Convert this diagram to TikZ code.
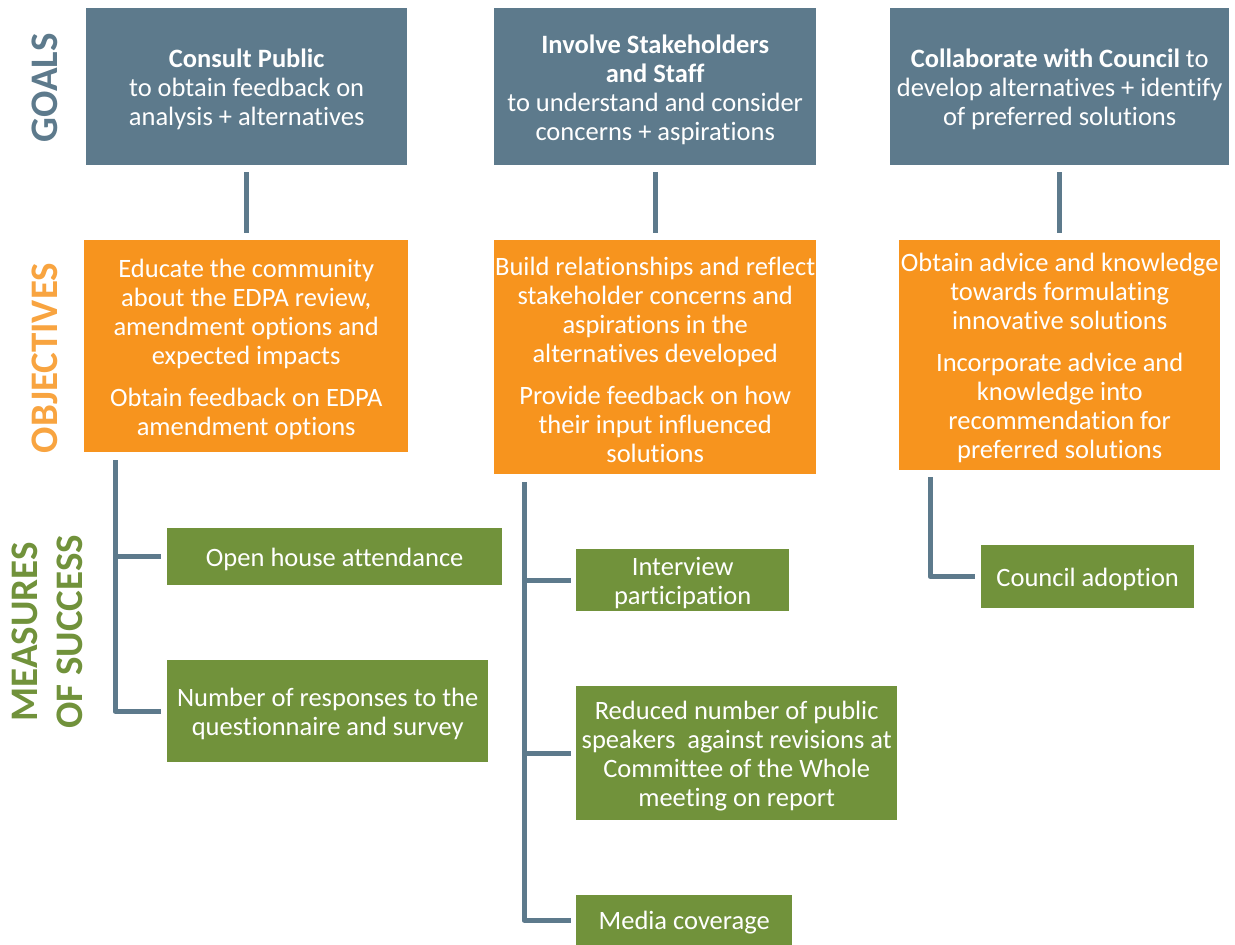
\documentclass[tikz,border=0pt]{standalone}
\usepackage{fontspec}
\setmainfont[Ligatures=NoCommon]{Carlito}
\definecolor{slate}{HTML}{5D7A8C}
\definecolor{orng}{HTML}{F7941E}
\definecolor{grn}{HTML}{71923B}
\newcommand{\firstline}{\rule{0pt}{24pt}}
\begin{document}
\begin{tikzpicture}[x=1pt,y=-1pt,
  box/.style={anchor=north west,inner sep=0pt,align=center,text=white,
    font=\fontsize{26.5}{29}\selectfont},
  goal/.style={box,fill=slate},
  obj/.style={box,fill=orng},
  meas/.style={box,fill=grn},
  conn/.style={draw=slate,line width=5pt,line join=round},
  side/.style={rotate=90,font=\fontsize{39}{45}\selectfont\bfseries,align=center,inner sep=0pt}]
\useasboundingbox (0,0) rectangle (1235,945);
% goals
\node[goal,minimum width=321,minimum height=157] (g1) at (86,8) {\firstline\textbf{Consult Public}\\to obtain feedback on\\analysis + alternatives};
\node[goal,minimum width=322,minimum height=157] (g2) at (494,8) {\firstline\textbf{Involve Stakeholders}\\\textbf{and Staff}\\to understand and consider\\concerns + aspirations};
\node[goal,minimum width=339,minimum height=157] (g3) at (890,8) {\firstline\textbf{Collaborate with Council} to\\develop alternatives + identify\\of preferred solutions};
% objectives
\node[obj,minimum width=324,minimum height=212] (o1) at (84,240) {\firstline Educate the community\\about the EDPA review,\\amendment options and\\expected impacts\\[13pt]Obtain feedback on EDPA\\amendment options};
\node[obj,minimum width=322,minimum height=234] (o2) at (494,240) {\firstline Build relationships and reflect\\stakeholder concerns and\\aspirations in the\\alternatives developed\\[13pt]Provide feedback on how\\their input influenced\\solutions};
\node[obj,minimum width=321,minimum height=230] (o3) at (899,240) {\firstline Obtain advice and knowledge\\towards formulating\\innovative solutions\\[13pt]Incorporate advice and\\knowledge into\\recommendation for\\preferred solutions};
% measures
\node[meas,minimum width=335,minimum height=57] (m1a) at (167,528) {\firstline Open house attendance};
\node[meas,minimum width=321,minimum height=102] (m1b) at (167,660) {\firstline Number of responses to the\\questionnaire and survey};
\node[meas,minimum width=213,minimum height=62] (m2a) at (576,549) {\firstline Interview\\participation};
\node[meas,minimum width=321,minimum height=134] (m2b) at (576,686) {\firstline Reduced number of public\\speakers\ \ against revisions at\\Committee of the Whole\\meeting on report};
\node[meas,minimum width=216,minimum height=50] (m2c) at (576,895) {\firstline Media coverage};
\node[meas,minimum width=213,minimum height=63] (m3) at (981,545) {\firstline Council adoption};
% side labels
\node[side,text=slate] (lg) at (45,88) {GOALS};
\node[side,text=orng!85!white] (lo) at (45,358) {OBJECTIVES};
\node[side,text=grn] (lm) at (47,632) {MEASURES\\OF SUCCESS};
% goal -> objective connectors
\draw[conn,shorten <=7pt,shorten >=7pt] (g1.south) -- (g1.south |- o1.north);
\draw[conn,shorten <=7pt,shorten >=7pt] (g2.south) -- (g2.south |- o2.north);
\draw[conn,shorten <=7pt,shorten >=7pt] (g3.south) -- (g3.south |- o3.north);
% objective -> measures
\coordinate (t1) at (115,460);
\coordinate (t2) at (524,482);
\coordinate (t3) at (930,477);
\draw[conn] (t1) |- ([xshift=-6pt]m1b.west);
\draw[conn] (t1 |- m1a.west) -- ([xshift=-6pt]m1a.west);
\draw[conn] (t2) |- ([xshift=-5pt]m2c.west);
\draw[conn] (t2 |- m2a.west) -- ([xshift=-5pt]m2a.west);
\draw[conn] (t2 |- m2b.west) -- ([xshift=-5pt]m2b.west);
\draw[conn] (t3) |- ([xshift=-6pt]m3.west);
\end{tikzpicture}
\end{document}
